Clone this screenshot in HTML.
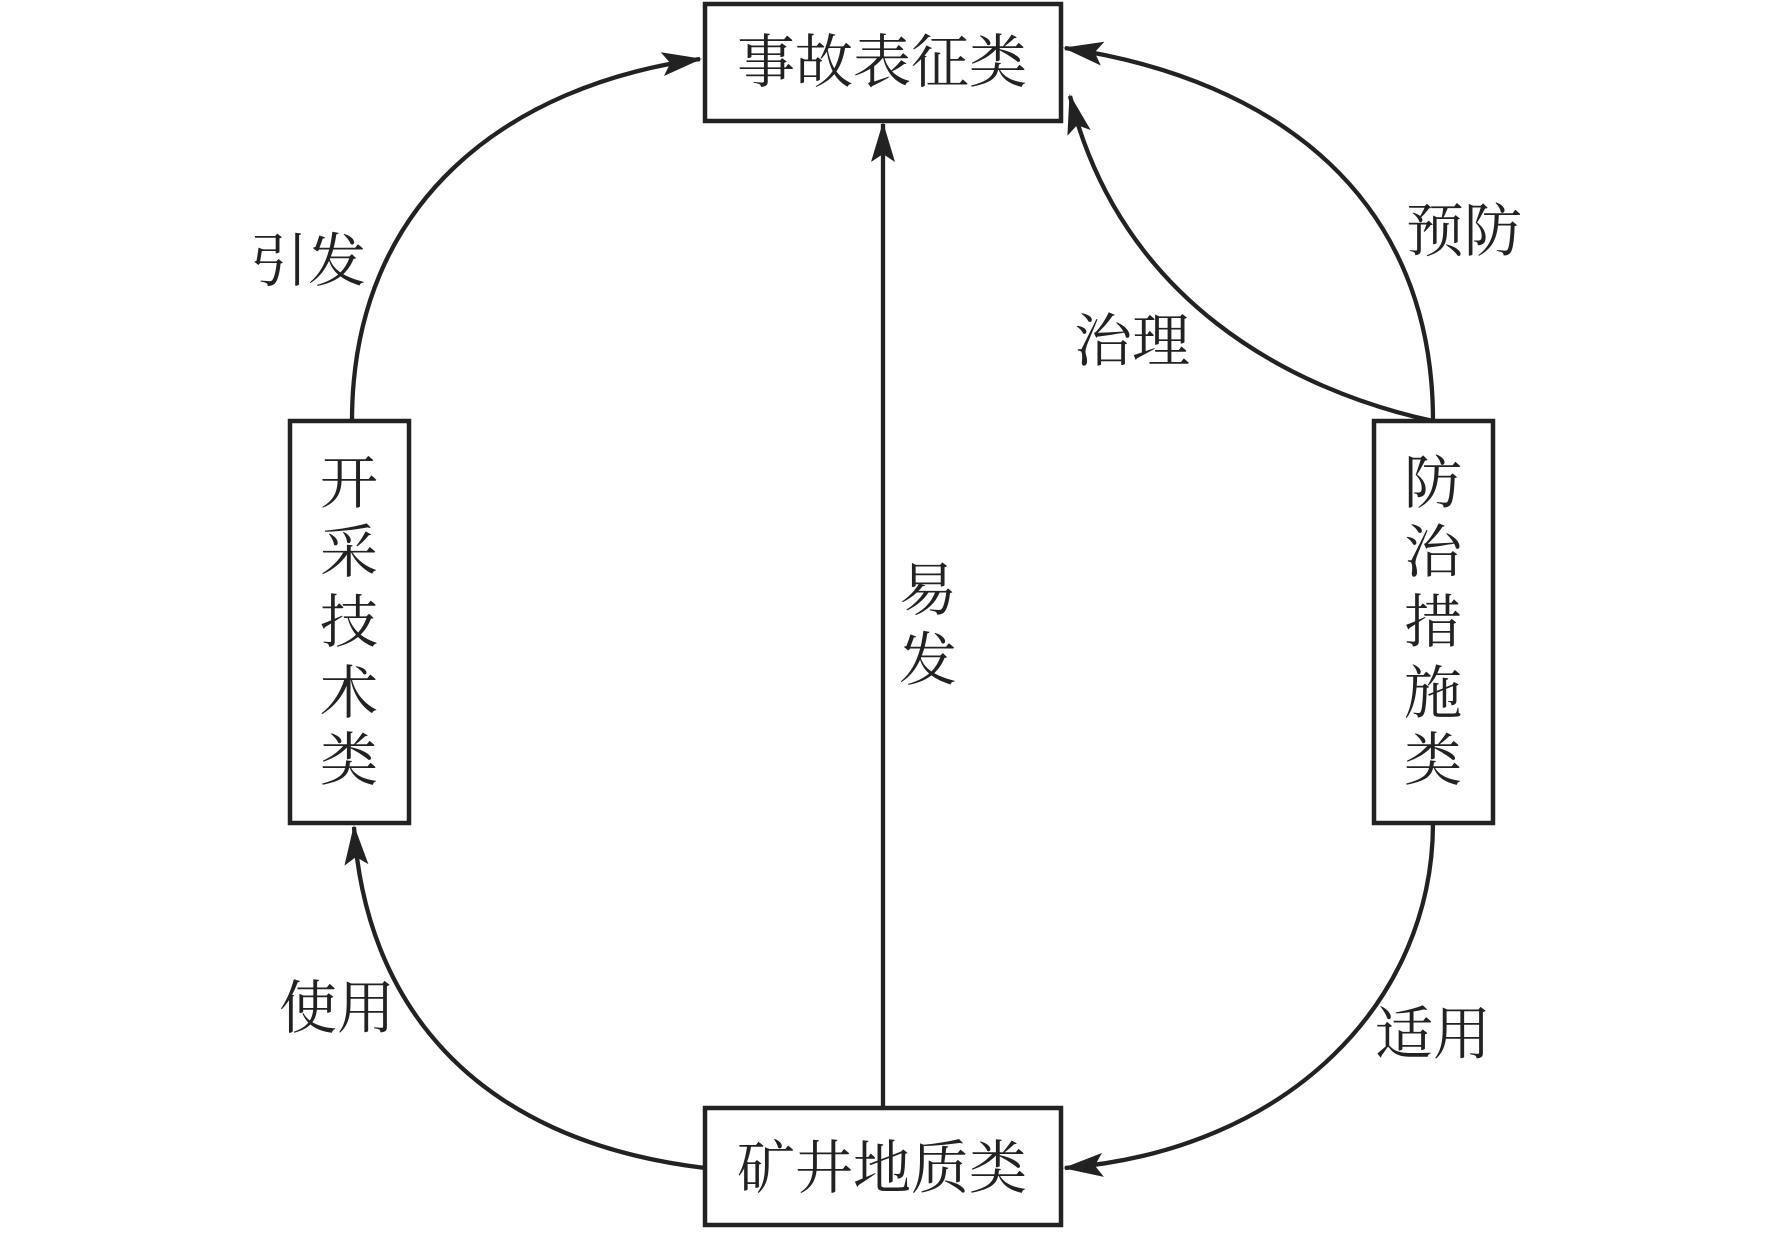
<!DOCTYPE html>
<html><head><meta charset="utf-8"><style>
html,body{margin:0;padding:0;background:#fff}
svg text{font-family:"Liberation Serif","Noto Serif CJK SC",serif;fill:#222}
</style></head><body>
<svg width="1772" height="1228" viewBox="0 0 1772 1228" xmlns="http://www.w3.org/2000/svg">
<defs>
<marker id="ar" viewBox="0 0 40 26" refX="38" refY="13" markerWidth="40" markerHeight="26" orient="auto" markerUnits="userSpaceOnUse"><path d="M0,1 L40,13 L0,25 L8,13 Z" fill="#222"/></marker></defs>
<g fill="none" stroke="#222" stroke-width="4.5">
<rect x="705" y="4" width="356" height="117"/>
<rect x="290" y="421" width="119" height="402"/>
<rect x="1374" y="421" width="119" height="402"/>
<rect x="705" y="1108" width="356" height="117"/>
</g>
<g fill="none" stroke="#222" stroke-width="4.3">
<path d="M352,421 C352,200 510,85 700,59" marker-end="url(#ar)"/>
<path d="M705,1168 C470,1140 365,1000 354,827" marker-end="url(#ar)"/>
<path d="M1433,421 C1433,200 1280,80 1065,48" marker-end="url(#ar)"/>
<path d="M1433,421 C1290,390 1120,300 1070,96" marker-end="url(#ar)"/>
<path d="M1433,823 C1433,1000 1290,1150 1065,1168" marker-end="url(#ar)"/>
<path d="M883,1108 L883,124" marker-end="url(#ar)"/>
</g>
<g font-size="58" text-anchor="middle">
<text x="882" y="82">事故表征类</text>
<text x="882" y="1188">矿井地质类</text>
<text x="349" y="503">开</text><text x="349" y="572">采</text><text x="349" y="642">技</text><text x="349" y="713">术</text><text x="349" y="780">类</text>
<text x="1433" y="503">防</text><text x="1433" y="572">治</text><text x="1433" y="642">措</text><text x="1433" y="713">施</text><text x="1433" y="780">类</text>
<text x="308" y="281">引发</text>
<text x="1464" y="251">预防</text>
<text x="1132" y="361">治理</text>
<text x="928" y="610">易</text><text x="928" y="680">发</text>
<text x="337" y="1028">使用</text>
<text x="1433" y="1054">适用</text>
</g>
</svg>
</body></html>
